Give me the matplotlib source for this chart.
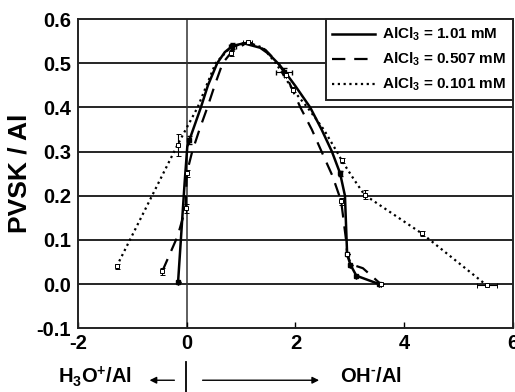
import numpy as np
import matplotlib
matplotlib.use("Agg")
import matplotlib.pyplot as plt

plt.rcParams["font.family"] = ["Liberation Sans", "DejaVu Sans"]
plt.rcParams["font.weight"] = "bold"
plt.rcParams["axes.unicode_minus"] = False
plt.rcParams["mathtext.fontset"] = "custom"
plt.rcParams["mathtext.rm"] = "Liberation Sans:bold"
plt.rcParams["mathtext.bf"] = "Liberation Sans:bold"
plt.rcParams["mathtext.default"] = "bf"

# ============================================
# Data
# ============================================
# AlCl3 = 1.01 mM : line path
solid_x = [-0.16, -0.04, 0.01, 0.06, 0.26, 0.39, 0.56, 0.70, 0.84, 1.05, 1.35,
           1.50, 1.70, 1.82, 2.00, 2.27, 2.48, 2.67, 2.82, 2.91, 2.94, 2.95,
           3.01, 3.12, 3.54]
solid_y = [0.004, 0.228, 0.311, 0.330, 0.400, 0.450, 0.500, 0.525, 0.539, 0.545, 0.535,
           0.522, 0.497, 0.478, 0.448, 0.400, 0.350, 0.300, 0.251, 0.200, 0.100, 0.068,
           0.044, 0.019, 0.000]
# measured points
solid_px = [-0.16, 0.05, 0.84, 1.79, 2.82, 2.95, 3.01, 3.12, 3.54]
solid_py = [0.004, 0.326, 0.539, 0.481, 0.251, 0.068, 0.044, 0.019, 0.000]
solid_xe = [0.0, 0.0, 0.06, 0.15, 0.0, 0.0, 0.0, 0.0, 0.0]
solid_ye = [0.0, 0.010, 0.006, 0.008, 0.006, 0.0, 0.0, 0.0, 0.0]

# AlCl3 = 0.507 mM
dash_x = [-0.45, -0.17, -0.02, 0.00, 0.10, 0.24, 0.38, 0.52, 0.66, 0.81, 1.12,
          1.45, 1.68, 1.82, 2.09, 2.30, 2.48, 2.68, 2.84, 2.93, 2.95, 3.02,
          3.24, 3.57]
dash_y = [0.029, 0.108, 0.172, 0.251, 0.300, 0.352, 0.400, 0.452, 0.500, 0.523, 0.548,
          0.530, 0.500, 0.474, 0.400, 0.350, 0.300, 0.245, 0.188, 0.100, 0.068, 0.045,
          0.036, 0.000]
dash_px = [-0.45, -0.02, 0.00, 0.81, 1.12, 1.82, 2.84, 2.95, 3.57]
dash_py = [0.029, 0.172, 0.251, 0.523, 0.548, 0.474, 0.188, 0.068, 0.000]
dash_xe = [0.0, 0.0, 0.0, 0.0, 0.08, 0.0, 0.0, 0.0, 0.0]
dash_ye = [0.008, 0.010, 0.008, 0.006, 0.0, 0.006, 0.008, 0.0, 0.0]

# AlCl3 = 0.101 mM
dot_x = [-1.29, -0.17, 0.20, 0.53, 0.80, 1.10, 1.40, 1.64, 1.95, 2.22,
         2.52, 2.76, 2.85, 3.08, 3.27, 4.32, 5.52]
dot_y = [0.040, 0.315, 0.400, 0.500, 0.535, 0.548, 0.535, 0.500, 0.440, 0.400,
         0.350, 0.300, 0.280, 0.236, 0.202, 0.115, -0.003]
dot_px = [-1.29, -0.17, 1.95, 2.85, 3.27, 4.32, 5.52]
dot_py = [0.040, 0.315, 0.440, 0.280, 0.202, 0.115, -0.003]
dot_xe = [0.0, 0.0, 0.0, 0.0, 0.0, 0.0, 0.18]
dot_ye = [0.006, 0.025, 0.006, 0.006, 0.010, 0.005, 0.0]

labels = ["AlCl$_3$ = 1.01 mM", "AlCl$_3$ = 0.507 mM", "AlCl$_3$ = 0.101 mM"]

# ============================================
# Plot
# ============================================
fig = plt.figure(figsize=(5.15, 3.92), dpi=100)
ax = fig.add_axes([0.1515, 0.1625, 0.8445, 0.789])

for yv in [0.0, 0.1, 0.2, 0.3, 0.4, 0.5]:
    ax.axhline(yv, color="black", lw=1.2, zorder=1)
ax.axvline(0, color="#333333", lw=1.1, zorder=1)

ax.plot(solid_x, solid_y, "-", color="black", lw=1.8, label=labels[0], zorder=3)
ax.plot(dash_x, dash_y, color="black", lw=1.6, dashes=(6, 4), label=labels[1], zorder=3)
ax.plot(dot_x, dot_y, color="black", lw=1.6, dashes=(1, 1.6), label=labels[2], zorder=3)

ax.errorbar(solid_px, solid_py, xerr=solid_xe, yerr=solid_ye, fmt="s", ms=2.5,
            mfc="black", mec="black", ecolor="black", elinewidth=0.8, capsize=1.8,
            zorder=4)
ax.errorbar(dash_px, dash_py, xerr=dash_xe, yerr=dash_ye, fmt="s", ms=2.5,
            mfc="white", mec="black", mew=0.7, ecolor="black", elinewidth=0.8,
            capsize=1.8, zorder=4)
ax.errorbar(dot_px, dot_py, xerr=dot_xe, yerr=dot_ye, fmt="s", ms=3,
            mfc="white", mec="black", mew=0.7, ecolor="black", elinewidth=0.8,
            capsize=1.8, zorder=4)

ax.set_xlim(-2, 6)
ax.set_ylim(-0.1, 0.6)
ax.set_xticks([-2, 0, 2, 4, 6])
ax.set_yticks([-0.1, 0.0, 0.1, 0.2, 0.3, 0.4, 0.5, 0.6])
ax.set_yticklabels(["-0.1", "0.0", "0.1", "0.2", "0.3", "0.4", "0.5", "0.6"])
ax.tick_params(axis="x", direction="in", length=4, width=1, pad=4, labelsize=14.5)
ax.tick_params(axis="y", direction="in", length=0, pad=5, labelsize=14.5)
for s in ax.spines.values():
    s.set_linewidth(1.4)
    s.set_color("#222222")

ax.set_ylabel("PVSK / Al", fontsize=19, fontweight="bold", labelpad=4)

leg = ax.legend(loc="upper right", borderaxespad=0, fancybox=False,
                edgecolor="#222222", framealpha=1, fontsize=11, handlelength=2.8,
                handletextpad=0.45, labelspacing=0.5, borderpad=0.45)
leg.get_frame().set_linewidth(1.4)

# bottom annotation
fig.text(0.113, 0.040, r"H$_3$O$^{\text{+}}$/Al", fontsize=14.5, ha="left", va="center")
fig.text(0.66, 0.040, r"OH$^{\text{-}}$/Al", fontsize=14.5, ha="left", va="center")
fig.add_artist(plt.Line2D([0.361, 0.361], [0.0, 0.077], color="black", lw=1.3,
                          transform=fig.transFigure))
ax.annotate("", xy=(0.285, 0.030), xytext=(0.344, 0.030), xycoords="figure fraction",
            arrowprops=dict(arrowstyle="-|>", color="black", lw=1.0,
                            mutation_scale=10))
ax.annotate("", xy=(0.625, 0.030), xytext=(0.388, 0.030), xycoords="figure fraction",
            arrowprops=dict(arrowstyle="-|>", color="black", lw=1.0,
                            mutation_scale=10))

fig.savefig("out.png", dpi=100)
